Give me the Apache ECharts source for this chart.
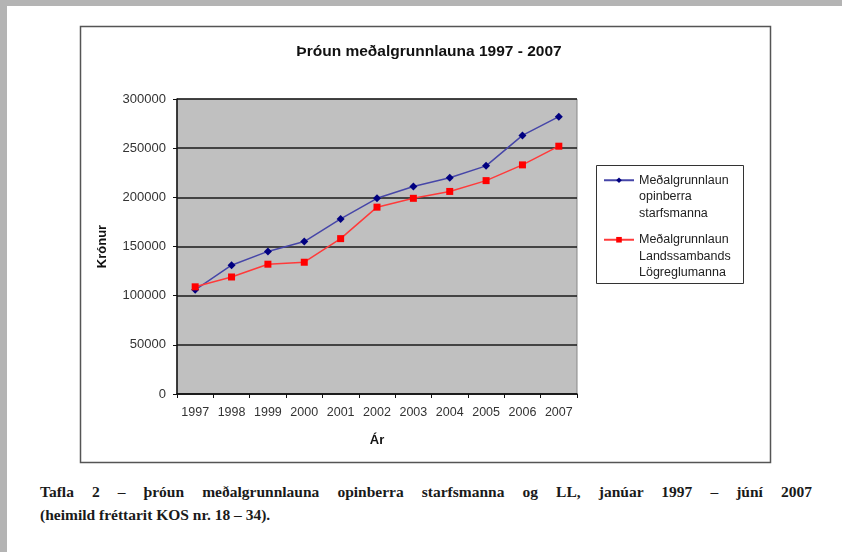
<!DOCTYPE html>
<html>
<head>
<meta charset="utf-8">
<script src="https://cdn.jsdelivr.net/npm/echarts@6/dist/echarts.min.js"></script>
<style>
  html, body { margin: 0; padding: 0; }
  body { width: 842px; height: 552px; background: #b4b4b4; position: relative; overflow: hidden; }
  #page { position: absolute; left: 7px; top: 6px; right: 0; bottom: 0; background: #fff; }
  #chartBox { position: absolute; left: 0; top: 0; width: 842px; height: 470px; }
  .caption { position: absolute; left: 40px; width: 772px; font-family: "Liberation Serif", "Times New Roman", serif;
    font-weight: bold; font-size: 15.5px; line-height: 18px; color: #1a1a1a; white-space: nowrap; }
  #cap1 { top: 483px; text-align: justify; text-align-last: justify; white-space: normal; }
  #cap2 { top: 506px; }
</style>
</head>
<body>
<div id="page"></div>
<div id="chartBox"></div>
<div class="caption" id="cap1">Tafla 2 – þróun meðalgrunnlauna opinberra starfsmanna og LL, janúar 1997 – júní 2007</div>
<div class="caption" id="cap2">(heimild fréttarit KOS nr. 18 – 34).</div>
<script>
// gögn lesin af myndinni
var years = ["1997", "1998", "1999", "2000", "2001", "2002", "2003", "2004", "2005", "2006", "2007"];
var opinberra = [106000, 131000, 145000, 155000, 178000, 199000, 211000, 220000, 232000, 263000, 282000];
var logreglu = [109000, 119000, 132000, 134000, 158000, 190000, 199000, 206000, 217000, 233000, 252000];
var yTicks = { min: 0, max: 300000, step: 50000 };
var nameOpinberra = "Meðalgrunnlaun\nopinberra\nstarfsmanna";
var nameLogreglu = "Meðalgrunnlaun\nLandssambands\nLögreglumanna";

var lineH = 16.5;
var chart = echarts.init(document.getElementById("chartBox"));

var option = {
  animation: false,
  textStyle: { fontFamily: "Liberation Sans, Arial, sans-serif" },
  title: {
    text: "Þróun meðalgrunnlauna 1997 - 2007",
    left: 424,
    top: 39,
    textAlign: "center",
    textStyle: { fontSize: 15.5, fontWeight: "bold", color: "#111" }
  },
  // rammi utan um myndritið og skýringarnar
  graphic: [
    {
      type: "rect",
      shape: { x: 80.5, y: 26.5, width: 690, height: 436 },
      style: { fill: "none", stroke: "#555", lineWidth: 1.5 },
      z: -1
    },
    {
      type: "rect",
      shape: { x: 596.5, y: 165.5, width: 147, height: 118 },
      style: { fill: "#fff", stroke: "#333", lineWidth: 1 },
      z: 0
    }
  ],
  grid: {
    left: 177,
    top: 99,
    width: 400,
    height: 295,
    show: true,
    backgroundColor: "#c0c0c0",
    borderColor: "#888",
    borderWidth: 1
  },
  legend: {
    orient: "vertical",
    left: 603,
    top: 139,
    padding: 0,
    itemGap: 10 - 2 * lineH,
    itemWidth: 30,
    itemHeight: 7,
    z: 5,
    selectedMode: false,
    data: [nameOpinberra, nameLogreglu],
    // tvær auðar línur fyrir ofan svo táknið standi við fyrstu línuna
    formatter: function (name) {
      return "\n\n" + name;
    },
    textStyle: {
      fontSize: 12.5,
      color: "#222",
      lineHeight: lineH
    }
  },
  xAxis: {
    type: "category",
    data: years,
    boundaryGap: true,
    name: "Ár",
    nameLocation: "middle",
    nameGap: 40,
    nameTextStyle: { fontSize: 13, fontWeight: "bold", color: "#111" },
    axisLine: { lineStyle: { color: "#111", width: 1.5 } },
    axisTick: { show: true, length: 4, inside: false, alignWithLabel: false, lineStyle: { color: "#111" } },
    axisLabel: { fontSize: 12.5, color: "#333", margin: 12, interval: 0, hideOverlap: false }
  },
  yAxis: {
    type: "value",
    min: yTicks.min,
    max: yTicks.max,
    interval: yTicks.step,
    name: "Krónur",
    nameLocation: "middle",
    nameGap: 68,
    nameRotate: 90,
    nameTextStyle: { fontSize: 13, fontWeight: "bold", color: "#111" },
    axisLine: { show: true, lineStyle: { color: "#111", width: 1.5 } },
    axisTick: { show: true, length: 4, lineStyle: { color: "#111" } },
    axisLabel: {
      fontSize: 13,
      color: "#333",
      margin: 11,
      formatter: function (v) { return String(v); }
    },
    splitLine: { show: true, lineStyle: { color: "#1a1a1a", width: 1.5 } }
  },
  series: [
    {
      name: nameOpinberra,
      type: "line",
      data: opinberra,
      symbol: "diamond",
      symbolSize: 8,
      itemStyle: { color: "#000080" },
      lineStyle: { color: "#4646a8", width: 1.5 }
    },
    {
      name: nameLogreglu,
      type: "line",
      data: logreglu,
      symbol: "rect",
      symbolSize: 7,
      itemStyle: { color: "#ff0000" },
      lineStyle: { color: "#ff3a3a", width: 1.5 }
    }
  ]
};

chart.setOption(option);
</script>
</body>
</html>
